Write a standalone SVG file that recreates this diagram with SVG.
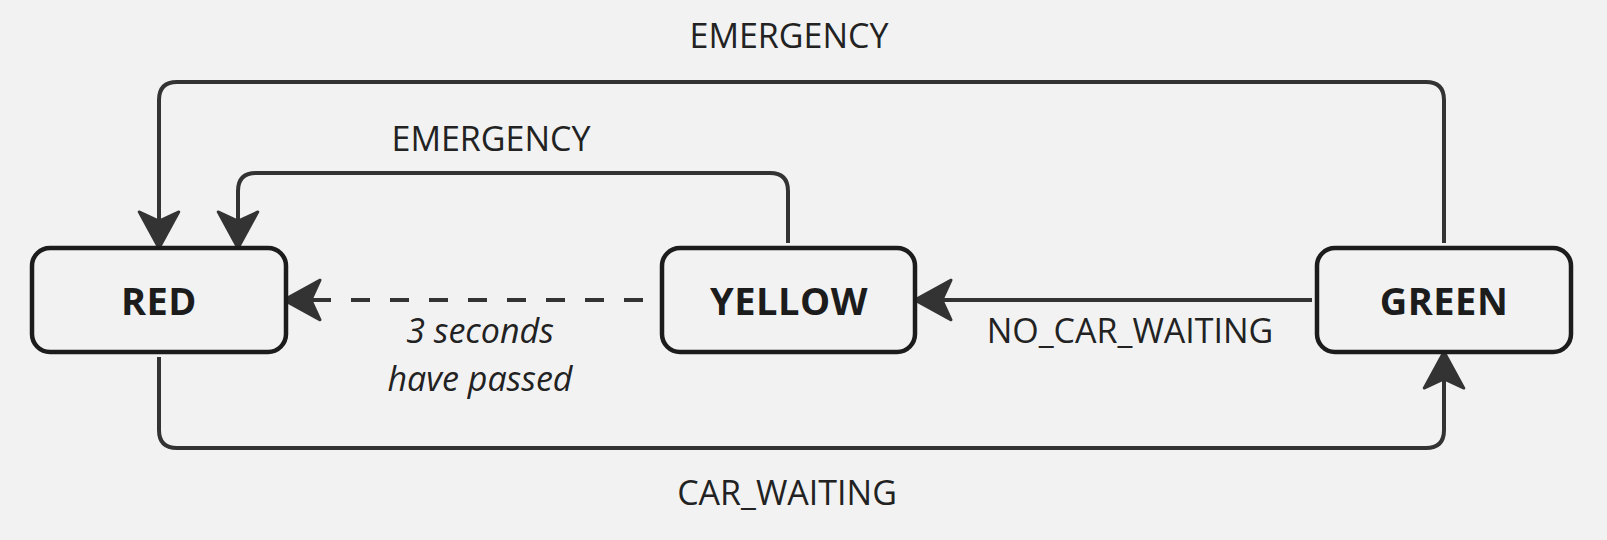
<svg xmlns="http://www.w3.org/2000/svg" width="1607" height="540" viewBox="0 0 1607 540">
<style>
.bg{fill:#f2f2f2}
.box{fill:#f2f2f2;stroke:#1c1c1c;stroke-width:4.5}
.nt{font-family:"Open Sans","Liberation Sans",sans-serif;font-weight:bold;font-size:38px;fill:#1c1c1c;text-anchor:middle;letter-spacing:0.5px}
.lbl{font-family:"Open Sans","Liberation Sans",sans-serif;font-size:34px;fill:#222;text-anchor:middle}
.it{font-style:italic}
.edge{fill:none;stroke:#333;stroke-width:4;marker-end:url(#arr)}
.dash{stroke-dasharray:19 20}
</style>
<defs>
<marker id="arr" markerUnits="userSpaceOnUse" markerWidth="50" markerHeight="50" viewBox="-12 -22 40 44" refX="0" refY="0" orient="auto" overflow="visible">
<path d="M24,0 L-8,-17.5 L0,0 L-8,17.5 Z" fill="#333" stroke="#333" stroke-width="2.5" stroke-linejoin="round"/>
</marker>
</defs>
<rect class="bg" x="0" y="0" width="1607" height="540"/>
<g id="connectors">
<path class="edge" d="M1444,243 V100 Q1444,82 1426,82 H177 Q159,82 159,100 V221"/>
<path class="edge" d="M788,243 V191 Q788,173 770,173 H256 Q238,173 238,191 V221"/>
<path class="edge dash" d="M643,300 H311"/>
<path class="edge" d="M1312,300 H942"/>
<path class="edge" d="M159,357 V430 Q159,448 177,448 H1426 Q1444,448 1444,430 V379"/>
</g>
<g id="labels">
<text class="lbl" x="789" y="48">EMERGENCY</text>
<text class="lbl" x="491" y="151">EMERGENCY</text>
<text class="lbl" x="1130" y="343">NO_CAR_WAITING</text>
<text class="lbl" x="787" y="505">CAR_WAITING</text>
<text class="lbl it" x="480" y="343">3 seconds</text>
<text class="lbl it" x="480" y="391">have passed</text>
</g>
<g id="red">
<rect class="box" x="32" y="248" width="254" height="104" rx="18"/>
<text class="nt" x="159" y="315">RED</text>
</g>
<g id="yellow">
<rect class="box" x="662" y="248" width="253" height="104" rx="18"/>
<text class="nt" x="789" y="315">YELLOW</text>
</g>
<g id="green">
<rect class="box" x="1317" y="248" width="254" height="104" rx="18"/>
<text class="nt" x="1444" y="315">GREEN</text>
</g>
</svg>
